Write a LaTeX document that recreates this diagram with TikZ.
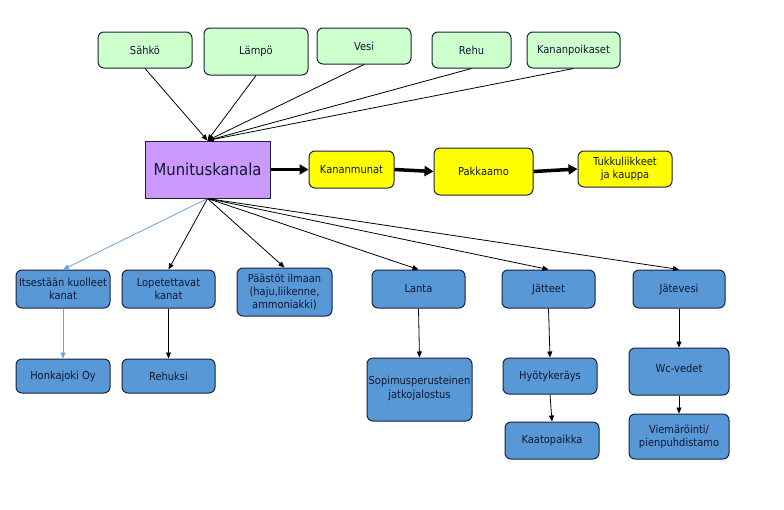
\documentclass[tikz,border=0pt]{standalone}
\usepackage{fontspec}
\setmainfont{DejaVu Sans}[FakeStretch=0.9]
\usetikzlibrary{arrows.meta}
\definecolor{grfill}{RGB}{204,255,204}
\definecolor{pufill}{RGB}{204,153,255}
\definecolor{yefill}{RGB}{255,255,0}
\definecolor{blfill}{RGB}{88,152,214}
\definecolor{bord}{RGB}{25,35,60}
\definecolor{txt}{RGB}{16,24,48}
\definecolor{lblue}{RGB}{110,160,215}
\tikzset{
  box/.style={draw=bord, line width=1pt, rounded corners=6pt, inner sep=0pt, align=center,
    text=txt, font=\fontsize{11}{13}\selectfont},
  gbox/.style={box, fill=grfill},
  ybox/.style={box, fill=yefill},
  bbox/.style={box, fill=blfill},
  thin/.style={line width=0.8pt, -{Triangle[length=6pt,width=5pt]}},
  thick/.style={line width=3.5pt, -{Triangle[length=9pt,width=10pt]}},
}
\begin{document}
\begin{tikzpicture}[x=1pt,y=-1pt]
\useasboundingbox (0,0) rectangle (784,509);
% top inputs
\node[gbox, minimum width=94pt, minimum height=36pt] (sahko) at (145,50) {Sähkö};
\node[gbox, minimum width=104pt, minimum height=47pt] (lampo) at (256,51.5) {Lämpö};
\node[gbox, minimum width=94pt, minimum height=36pt] (vesi) at (364,46) {Vesi};
\node[gbox, minimum width=79pt, minimum height=36pt] (rehu) at (471.5,50) {Rehu};
\node[gbox, minimum width=93pt, minimum height=36pt] (kana) at (573.5,50) {Kananpoikaset};
% main
\node[draw=bord, line width=1pt, fill=pufill, minimum width=125pt, minimum height=57pt, inner sep=0pt,
  text=txt, font=\fontsize{16.5}{18}\selectfont] (muni) at (207.5,169.5) {Munituskanala};
\node[ybox, minimum width=85pt, minimum height=37pt] (munat) at (351.5,169.5) {Kananmunat};
\node[ybox, minimum width=99pt, minimum height=47pt] (pakk) at (483.5,171.5) {Pakkaamo};
\node[ybox, minimum width=94pt, minimum height=36pt] (tukku) at (625,169) {Tukkuliikkeet\\ja kauppa};
% outputs row 1
\node[bbox, minimum width=94pt, minimum height=38pt] (itse) at (63,289) {Itsestään kuolleet\\kanat};
\node[bbox, minimum width=93pt, minimum height=38pt] (lope) at (168.5,289) {Lopetettavat\\kanat};
\node[bbox, minimum width=95pt, minimum height=48pt] (paas) at (284.5,292) {Päästöt ilmaan\\(haju,liikenne,\\ammoniakki)};
\node[bbox, minimum width=93pt, minimum height=38pt] (lanta) at (418.5,289) {Lanta};
\node[bbox, minimum width=93pt, minimum height=38pt] (jatt) at (548.5,289) {Jätteet};
\node[bbox, minimum width=92pt, minimum height=38pt] (jatv) at (679,289) {Jätevesi};
% outputs row 2
\node[bbox, minimum width=94pt, minimum height=34pt] (honk) at (63,376) {Honkajoki Oy};
\node[bbox, minimum width=93pt, minimum height=34pt] (rehuk) at (168.5,376) {Rehuksi};
\node[bbox, minimum width=105pt, minimum height=63pt] (sopi) at (419.5,389.5) {\raisebox{5pt}{\shortstack{Sopimusperusteinen\\jatkojalostus}}};
\node[bbox, minimum width=94pt, minimum height=36pt] (hyot) at (550,376) {Hyötykeräys};
\node[bbox, minimum width=94pt, minimum height=37pt] (kaato) at (552,440.5) {Kaatopaikka};
\node[bbox, minimum width=100pt, minimum height=47pt] (wc) at (679,371.5) {\raisebox{6.5pt}{Wc-vedet}};
\node[bbox, minimum width=100pt, minimum height=45pt] (viem) at (679,436.5) {Viemäröinti/\\pienpuhdistamo};
% inputs to main
\foreach \n in {sahko,lampo,vesi,rehu,kana}
  \draw[thin] (\n.south) -- (muni.north);
% chain
\draw[thick] (muni.east) -- (munat.west);
\draw[thick] (munat.east) -- (pakk.west);
\draw[thick] (pakk.east) -- (tukku.west);
% outputs
\draw[thin, draw=lblue] (muni.south) -- (itse.north);
\foreach \n in {lope,paas,lanta,jatt,jatv}
  \draw[thin] (muni.south) -- (\n.north);
\draw[thin, draw=lblue] (itse.south) -- (honk.north);
\draw[thin] (lope.south) -- (rehuk.north);
\draw[thin] (lanta.south) -- (sopi.north);
\draw[thin] (jatt.south) -- (hyot.north);
\draw[thin] (hyot.south) -- (kaato.north);
\draw[thin] (jatv.south) -- (wc.north);
\draw[thin] (wc.south) -- (viem.north);
\end{tikzpicture}
\end{document}
